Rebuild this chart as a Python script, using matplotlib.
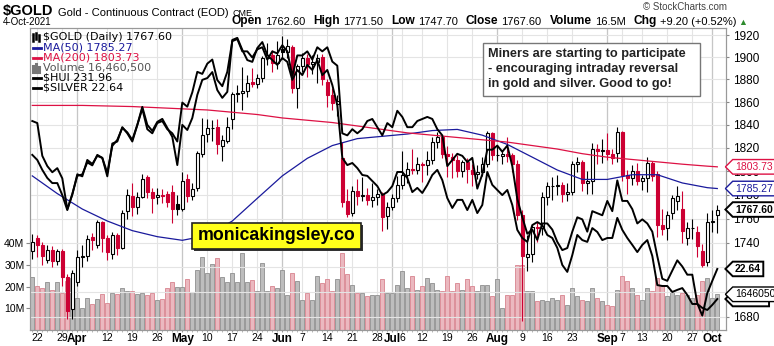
import numpy as np
import pandas as pd
import matplotlib
matplotlib.use("Agg")
import matplotlib.pyplot as plt
from matplotlib.patches import Rectangle
from matplotlib.lines import Line2D
from matplotlib.path import Path
from matplotlib.ticker import FixedLocator, NullLocator, FuncFormatter

plt.rcParams['font.family'] = ['Liberation Sans', 'DejaVu Sans']

# trading calendar (CME closed on these days)
holidays = ['2021-04-02', '2021-05-31', '2021-07-05', '2021-09-06']
days = pd.bdate_range('2021-03-19', '2021-10-04')
days = days[~days.isin(pd.to_datetime(holidays))]

gold_open = [1733, 1744, 1738, 1726, 1734, 1725, 1733, 1712, 1686, 1708,
             1728, 1729, 1745, 1738, 1757, 1744, 1731, 1746, 1736, 1766,
             1779, 1770, 1778, 1795, 1782, 1778, 1780, 1781, 1782, 1772,
             1768, 1793, 1779, 1786, 1815, 1832, 1837, 1838, 1822, 1826,
             1845, 1867, 1868, 1870, 1878, 1876, 1881, 1899, 1902, 1895,
             1907, 1905, 1909, 1872, 1892, 1899, 1894, 1896, 1900, 1878,
             1866, 1858, 1811, 1775, 1765, 1783, 1779, 1780, 1776, 1778,
             1781, 1762, 1770, 1777, 1788, 1797, 1802, 1801, 1806, 1805,
             1810, 1825, 1829, 1815, 1812, 1810, 1800, 1808, 1801, 1798,
             1799, 1806, 1833, 1814, 1813, 1815, 1814, 1806, 1763, 1728,
             1731, 1753, 1752, 1778, 1787, 1787, 1788, 1781, 1782, 1806,
             1808, 1790, 1792, 1819, 1817, 1818, 1815, 1816, 1834, 1797,
             1794, 1800, 1792, 1794, 1807, 1798, 1755, 1752, 1765, 1775,
             1768, 1744, 1752, 1749, 1733, 1724, 1757, 1762.6]
gold_high = [1747, 1746, 1741, 1738, 1737, 1735, 1735, 1714, 1718, 1734,
             1738, 1746, 1748, 1759, 1758, 1746, 1749, 1748, 1767, 1785,
             1790, 1782, 1798, 1797, 1786, 1786, 1785, 1783, 1788, 1780,
             1799, 1798, 1790, 1817, 1846, 1845, 1844, 1845, 1831, 1847,
             1869, 1875, 1891, 1884, 1890, 1885, 1901, 1913, 1906, 1915,
             1919, 1916, 1911, 1894, 1904, 1903, 1902, 1903, 1903, 1880,
             1872, 1866, 1825, 1785, 1787, 1793, 1795, 1786, 1790, 1785,
             1782, 1774, 1781, 1796, 1817, 1808, 1819, 1812, 1808, 1817,
             1829, 1834, 1830, 1822, 1816, 1814, 1810, 1811, 1806, 1805,
             1812, 1835, 1834, 1822, 1818, 1829, 1816, 1810, 1767, 1746,
             1755, 1757, 1782, 1791, 1795, 1797, 1791, 1790, 1809, 1812,
             1810, 1800, 1824, 1823, 1828, 1833, 1819, 1838, 1835, 1801,
             1805, 1807, 1797, 1812, 1809, 1800, 1768, 1766, 1780, 1787,
             1783, 1757, 1760, 1754, 1739, 1765, 1767, 1771.5]
gold_low = [1727, 1728, 1722, 1723, 1720, 1722, 1705, 1678, 1678, 1705,
            1720, 1725, 1734, 1736, 1732, 1726, 1727, 1730, 1735, 1760,
            1762, 1764, 1777, 1777, 1765, 1772, 1773, 1770, 1756, 1763,
            1766, 1774, 1776, 1783, 1812, 1825, 1826, 1815, 1809, 1824,
            1836, 1860, 1853, 1864, 1873, 1872, 1878, 1893, 1887, 1889,
            1898, 1899, 1868, 1855, 1887, 1882, 1885, 1877, 1875, 1856,
            1853, 1848, 1770, 1761, 1762, 1771, 1775, 1771, 1770, 1771,
            1750, 1751, 1767, 1774, 1785, 1790, 1798, 1798, 1791, 1797,
            1806, 1820, 1811, 1795, 1794, 1795, 1795, 1790, 1787, 1793,
            1796, 1804, 1810, 1809, 1806, 1808, 1799, 1759, 1677, 1717,
            1724, 1741, 1746, 1771, 1776, 1780, 1774, 1775, 1780, 1799,
            1783, 1781, 1781, 1806, 1807, 1810, 1806, 1808, 1792, 1781,
            1788, 1788, 1784, 1782, 1792, 1745, 1746, 1742, 1760, 1767,
            1740, 1738, 1743, 1728, 1720, 1721, 1749, 1747.7]
gold_close = [1741, 1738, 1729, 1734, 1725, 1733, 1712, 1685, 1715, 1728,
              1729, 1743, 1742, 1757, 1744, 1732, 1746, 1736, 1765, 1780,
              1770, 1778, 1793, 1782, 1777, 1780, 1779, 1774, 1768, 1768,
              1792, 1779, 1785, 1816, 1831, 1837, 1837, 1823, 1827, 1838,
              1867, 1868, 1870, 1877, 1876, 1881, 1899, 1902, 1895, 1902,
              1905, 1910, 1872, 1892, 1899, 1894, 1896, 1899, 1880, 1866,
              1859, 1861, 1774, 1764, 1783, 1779, 1780, 1776, 1778, 1781,
              1761, 1770, 1777, 1788, 1797, 1802, 1801, 1806, 1805, 1810,
              1825, 1829, 1815, 1813, 1810, 1800, 1808, 1802, 1798, 1799,
              1806, 1833, 1814, 1814, 1815, 1813, 1806, 1763, 1729, 1731,
              1753, 1752, 1778, 1787, 1787, 1788, 1781, 1782, 1806, 1808,
              1790, 1792, 1819, 1817, 1818, 1815, 1811, 1834, 1797, 1794,
              1800, 1792, 1794, 1807, 1796, 1755, 1751, 1763, 1777, 1779,
              1750, 1752, 1752, 1737, 1722, 1757, 1758.4, 1767.6]
volume_m = [24.3, 20.4, 19.2, 22.0, 18.4, 22.0, 16.9, 22.5, 24.0, 14.6,
            10.0, 14.6, 11.8, 14.1, 16.4, 12.3, 16.9, 16.4, 19.2, 18.0,
            18.0, 16.4, 16.9, 16.1, 16.9, 13.8, 14.3, 19.2, 22.0, 19.7,
            19.7, 23.5, 17.7, 27.6, 33.8, 26.1, 30.3, 33.0, 24.3, 22.3,
            26.4, 22.3, 35.3, 22.3, 23.0, 18.0, 30.8, 17.8, 20.1, 19.3,
            27.8, 16.3, 26.3, 22.4, 14.0, 17.1, 14.0, 24.8, 21.7, 23.3,
            17.8, 23.3, 35.6, 25.6, 20.9, 17.1, 17.1, 15.6, 16.3, 16.3,
            23.3, 17.1, 17.1, 20.9, 27.0, 19.3, 24.8, 18.6, 20.1, 24.0,
            21.7, 18.6, 17.8, 24.8, 17.8, 21.7, 18.6, 23.3, 20.1, 17.8,
            20.9, 20.9, 15.6, 23.3, 10.2, 16.3, 16.3, 30.1, 30.1, 17.8,
            17.8, 13.2, 14.0, 13.2, 14.7, 14.0, 16.3, 11.7, 19.3, 15.6,
            14.0, 13.2, 19.3, 14.7, 13.2, 11.7, 10.9, 18.6, 24.8, 22.4,
            19.3, 16.3, 14.0, 19.3, 17.8, 24.0, 20.1, 15.6, 17.8, 16.3,
            17.1, 16.3, 14.7, 16.3, 22.4, 24.0, 14.7, 16.4605]
silver = [26.25, 26.2, 25.4, 25.15, 25.0, 25.1, 24.85, 24.1, 24.45, 24.95,
          24.9, 25.3, 25.2, 25.4, 25.35, 24.9, 25.7, 25.75, 26.1, 25.95,
          25.75, 26.15, 26.55, 26.05, 25.95, 26.2, 26.25, 26.05, 25.95, 25.75,
          26.7, 26.6, 26.95, 27.45, 27.4, 27.65, 27.75, 27.25, 27.1, 27.45,
          28.2, 28.25, 27.95, 27.95, 27.8, 28.0, 28.05, 27.75, 27.95, 27.9,
          28.1, 27.95, 27.35, 27.85, 27.85, 27.95, 27.75, 28.05, 27.95, 28.05,
          27.7, 27.6, 25.95, 25.9, 26.05, 25.95, 26.05, 26.25, 26.3, 26.1,
          25.9, 26.2, 26.1, 26.5, 26.35, 26.1, 26.1, 26.25, 26.3, 26.35,
          26.3, 26.05, 25.9, 25.15, 25.3, 25.45, 25.4, 25.25, 25.35, 24.6,
          24.95, 25.55, 25.55, 25.65, 25.5, 25.65, 25.15, 24.35, 23.9, 23.5,
          23.6, 23.35, 23.75, 23.75, 23.6, 23.3, 23.1, 23.15, 23.55, 23.9,
          23.85, 23.55, 24.05, 24.0, 23.95, 24.3, 24.05, 24.8, 24.3, 24.3,
          24.1, 23.75, 23.85, 23.75, 23.55, 22.95, 22.4, 22.35, 22.6, 22.85,
          22.7, 22.5, 22.5, 21.8, 21.5, 22.05, 22.35, 22.64]
hui = [280.0, 278.3, 275.0, 272.3, 270.6, 270.6, 266.6, 261.6, 267.0, 273.0,
       273.5, 277.5, 276.5, 280.0, 279.0, 274.0, 283.0, 285.0, 289.0, 287.5,
       285.0, 290.0, 296.0, 290.0, 288.0, 291.0, 292.0, 289.0, 286.0, 276.6,
       290.0, 288.3, 292.3, 300.0, 305.0, 305.6, 307.6, 301.6, 299.0, 301.0,
       318.3, 319.0, 315.0, 311.6, 311.0, 315.6, 317.6, 313.3, 311.6, 310.0,
       312.3, 311.0, 305.0, 308.3, 306.6, 310.0, 308.3, 311.6, 306.6, 308.3,
       303.3, 296.6, 279.0, 276.6, 277.3, 275.6, 273.3, 273.0, 271.3, 269.6,
       266.6, 267.6, 269.6, 274.3, 274.3, 272.3, 267.6, 269.0, 267.3, 270.0,
       273.3, 275.0, 271.6, 265.6, 262.3, 265.0, 265.0, 261.6, 265.0, 260.6,
       263.3, 274.3, 270.0, 268.3, 266.6, 268.3, 263.3, 255.0, 252.3, 251.0,
       256.6, 257.6, 256.6, 253.3, 252.3, 249.0, 243.3, 241.0, 246.6, 253.3,
       251.6, 251.0, 255.6, 254.3, 251.6, 252.3, 252.3, 259.0, 255.0, 252.3,
       250.0, 247.6, 250.0, 251.6, 246.3, 236.6, 236.3, 236.3, 234.3, 235.0,
       235.6, 233.3, 230.3, 230.3, 229.0, 228.3, 230.0, 231.96]

# moving averages, read every 5th session
ma_bar = list(range(0, 136, 5)) + [137]
ma50 = [1796, 1781, 1768, 1758, 1750, 1745, 1742, 1746, 1758, 1777,
        1796, 1811, 1822, 1828, 1830, 1832, 1835, 1836, 1831, 1823,
        1812, 1801, 1793, 1793, 1797, 1797, 1790, 1786, 1785.27]
ma200 = [1857, 1857, 1857, 1856.5, 1856, 1855, 1854, 1853, 1851, 1849,
         1846, 1844, 1842, 1839, 1836, 1833, 1831, 1829, 1827, 1825,
         1822, 1819, 1815, 1812, 1810, 1808, 1806, 1804.3, 1803.73]

tick_days = ['2021-03-22', '2021-03-29', '2021-04-01', '2021-04-12', '2021-04-19',
             '2021-04-26', '2021-05-03', '2021-05-10', '2021-05-17', '2021-05-24',
             '2021-06-01', '2021-06-07', '2021-06-14', '2021-06-21', '2021-06-28',
             '2021-07-01', '2021-07-06', '2021-07-12', '2021-07-19', '2021-07-26',
             '2021-08-02', '2021-08-09', '2021-08-16', '2021-08-23', '2021-09-01',
             '2021-09-07', '2021-09-13', '2021-09-20', '2021-09-27', '2021-10-01']
tick_text = ['22', '29', 'Apr', '12', '19', '26', 'May', '10', '17', '24',
             'Jun', '7', '14', '21', '28', 'Jul', '6', '12', '19', '26',
             'Aug', '9', '16', '23', 'Sep', '7', '13', '20', '27', 'Oct']

RED = '#cc0033'
NAVY = '#1a1a9c'
MA_RED = '#dd1144'

o = np.array(gold_open, float)
h = np.array(gold_high, float)
l = np.array(gold_low, float)
c = np.array(gold_close, float)
x = np.arange(len(days))
prev = np.r_[o[0], c[:-1]]
down = c < prev

W, H = 774, 346
fig = plt.figure(figsize=(W / 100, H / 100), dpi=100)
fig.patch.set_facecolor('white')


def fx(px):
    return px / W


def fy(py):
    return 1 - py / H


L, R, T, B = 30, 726, 28, 330
axv = fig.add_axes([fx(L), fy(B), fx(R) - fx(L), fy(T) - fy(B)])
ax = axv.twinx()
axs = axv.twinx()
axh = axv.twinx()
axv.yaxis.tick_left()
ax.yaxis.tick_right()

# volume underneath everything
vcol = np.where(down, '#ebb8bf', '#bdbdbd')
vedge = np.where(down, '#d8838f', '#8f8f8f')
axv.bar(x, np.array(volume_m) * 1e6, width=0.86, color=vcol, edgecolor=vedge, lw=0.6)
axv.set_ylim(0, 139.2e6)
axv.yaxis.set_major_locator(FixedLocator([10e6, 20e6, 30e6, 40e6]))
axv.yaxis.set_major_formatter(FuncFormatter(lambda v, p: f'{v / 1e6:.0f}M'))
axv.tick_params(axis='y', labelsize=7.5, length=3, pad=1, color='#888')
axv.set_xlim(-0.46, 138.74)

tick_pos = [days.get_loc(pd.Timestamp(d)) for d in tick_days]
axv.set_xticks(tick_pos)
axv.set_xticklabels(tick_text)
axv.set_xticks(x, minor=True)
axv.tick_params(axis='x', which='major', length=1.5, pad=0.8, color='#999', labelsize=7.5)
axv.tick_params(axis='x', which='minor', length=1.2, color='#aaa')
for lab in axv.get_xticklabels():
    if lab.get_text().isalpha():
        lab.set_fontweight('bold')
        lab.set_fontsize(8.5)
axv.grid(axis='x', color='#e4e4e4', lw=0.8)
axv.set_axisbelow(True)
for p, t in zip(tick_pos, tick_text):
    if t.isalpha():
        axv.axvline(p, color='#c6c6c6', lw=0.9, zorder=0.6)

# price candles (log scale)
ax.set_yscale('log')
ax.set_ylim(1669.5, 1926.4)
ax.yaxis.set_major_locator(FixedLocator(range(1680, 1921, 20)))
ax.yaxis.set_minor_locator(NullLocator())
ax.yaxis.set_major_formatter(FuncFormatter(lambda v, p: f'{v:.0f}'))
ax.tick_params(axis='y', labelsize=8.5, length=2, pad=3, color='#888')
ax.grid(axis='y', color='#e4e4e4', lw=0.8)
ax.set_axisbelow(True)

ccol = np.where(down, RED, 'black')
cface = np.where(c < o, ccol, 'white')
ax.vlines(x, l, h, colors=ccol, lw=0.8, zorder=3)
ax.bar(x, np.abs(c - o), bottom=np.minimum(o, c), width=0.68,
       color=cface, edgecolor=ccol, lw=0.8, zorder=4)
ax.plot(ma_bar, ma50, color=NAVY, lw=0.9, zorder=5)
ax.plot(ma_bar, ma200, color=MA_RED, lw=0.9, zorder=5)

# overlays on their own scales
axs.plot(x, silver, color='black', lw=1.4)
axs.set_ylim(21.15, 28.52)
axh.plot(x, hui, color='black', lw=1.4)
axh.set_ylim(221.63, 322.29)
for a in (axs, axh):
    a.axis('off')

for a in (axv, ax):
    for sp in a.spines.values():
        sp.set_color('#999')
        sp.set_linewidth(0.8)


# right-hand value tags
class TagBox:
    def __init__(self, pad=0.22):
        self.pad = pad

    def __call__(self, x0, y0, width, height, mutation_size):
        p = self.pad * mutation_size
        x0, y0 = x0 - p, y0 - p
        x1, y1 = x0 + width + 2 * p, y0 + height + 2 * p
        ym = (y0 + y1) / 2
        tip = (y1 - y0) / 2
        return Path([(x0 - tip, ym), (x0, y0), (x1, y0), (x1, y1),
                     (x0, y1), (x0 - tip, ym)], closed=True)


def tag(axis, value, text, color, bold=False, lw=1.0):
    axh.annotate(text, xy=(1, value), xycoords=axis.get_yaxis_transform(),
                 xytext=(9, 0), textcoords='offset pixels', va='center', ha='left',
                 fontsize=7.5, color=color, fontweight='bold' if bold else 'normal',
                 annotation_clip=False,
                 bbox=dict(boxstyle=TagBox(), fc='white', ec=color, lw=lw))


tag(axh, hui[-1], f'{hui[-1]:.2f}', 'black', bold=True, lw=1.4)
tag(axv, volume_m[-1] * 1e6, f'{volume_m[-1] * 1e5:.0f}', 'black')
tag(axs, silver[-1], f'{silver[-1]:.2f}', 'black', bold=True, lw=1.4)
tag(ax, gold_close[-1], f'{gold_close[-1]:.2f}', 'black', bold=True, lw=1.4)
tag(ax, ma50[-1], f'{ma50[-1]:.2f}', NAVY)
tag(ax, ma200[-1], f'{ma200[-1]:.2f}', MA_RED)

# legend block
leg = [(37, f'$GOLD (Daily) {gold_close[-1]:.2f}', 'black'),
       (48, f'MA(50) {ma50[-1]:.2f}', NAVY),
       (58, f'MA(200) {ma200[-1]:.2f}', MA_RED),
       (68, f'Volume {volume_m[-1] * 1e6:,.0f}', '#555555'),
       (78, f'$HUI {hui[-1]:.2f}', 'black'),
       (88, f'$SILVER {silver[-1]:.2f}', 'black')]
for yy, txt, col in leg:
    fig.text(fx(43), fy(yy), txt, color=col, fontsize=8, family='DejaVu Sans',
             va='center', ha='left', zorder=6)
for yy, col in [(48, NAVY), (58, MA_RED), (78, 'black'), (88, 'black')]:
    fig.add_artist(Line2D([fx(32.5), fx(40.5)], [fy(yy), fy(yy)], color=col, lw=2,
                          transform=fig.transFigure, zorder=6))
for dx, y0, y1 in [(33, 34, 41), (36, 33, 39), (39, 35, 41)]:
    fig.add_artist(Line2D([fx(dx), fx(dx)], [fy(y0), fy(y1)], color='black', lw=1.8,
                          transform=fig.transFigure, zorder=6))
for dx, top in [(33, 66), (36, 64), (39, 67)]:
    fig.add_artist(Line2D([fx(dx), fx(dx)], [fy(top), fy(72)], color='#777', lw=2.2,
                          transform=fig.transFigure, zorder=6))

# comment box
fig.add_artist(Rectangle((fx(483), fy(96)), fx(700) - fx(483), fy(43) - fy(96),
                         transform=fig.transFigure, fc='white', ec='#777', lw=1, zorder=6))
for yy, line in [(54, 'Miners are starting to participate'),
                 (69, '- encouraging intraday reversal'),
                 (84, 'in gold and silver. Good to go!')]:
    fig.text(fx(488), fy(yy), line, fontsize=9.2, fontweight='bold', color='#222',
             va='center', ha='left', zorder=7)

# yellow site banner
fig.add_artist(Rectangle((fx(194), fy(251)), fx(363) - fx(194), fy(225) - fy(251),
                         transform=fig.transFigure, fc='#333', ec='none', zorder=6))
fig.add_artist(Rectangle((fx(192), fy(249)), fx(361) - fx(192), fy(223) - fy(249),
                         transform=fig.transFigure, fc='#ffff1a', ec='#222', lw=1.2, zorder=6))
fig.text(fx(277), fy(236), 'monicakingsley.co', fontsize=12.8, fontweight='bold',
         color='black', ha='center', va='center', zorder=7)


# header rows
def chain(x0, ybot, parts):
    first, kw = parts[0]
    prev = fig.text(fx(x0), fy(ybot), first, va='bottom', ha='left', **kw)
    for s, gap, kw in parts[1:]:
        prev = axh.annotate(s, xy=(1, 0), xycoords=prev, xytext=(gap, 0),
                            textcoords='offset pixels', va='bottom', ha='left',
                            annotation_clip=False, **kw)


BOLD = dict(fontsize=8.6, fontweight='bold', color='black')
NORM = dict(fontsize=8, color='black')
chain(3, 18, [('$GOLD', dict(fontsize=10.5, fontweight='bold')),
              ('Gold - Continuous Contract (EOD)', 4, dict(fontsize=8)),
              ('CME', 4, dict(fontsize=6.5))])
fig.text(fx(3), fy(27), '4-Oct-2021', fontsize=7, va='bottom', ha='left')
chain(232, 27, [('Open', BOLD), ('1762.60', 3, NORM), ('High', 8, BOLD),
                ('1771.50', 3, NORM), ('Low', 8, BOLD), ('1747.70', 3, NORM),
                ('Close', 8, BOLD), ('1767.60', 3, NORM), ('Volume', 8, BOLD),
                ('16.5M', 3, NORM), ('Chg', 8, BOLD), ('+9.20 (+0.52%)', 3, NORM),
                ('\u25b2', 2, dict(fontsize=6.5, color='#2e8b2e'))])
fig.text(fx(727), fy(12), '\u00a9 StockCharts.com', fontsize=7, color='#444',
         va='bottom', ha='right')

fig.savefig('out.png', dpi=100, facecolor='white')
